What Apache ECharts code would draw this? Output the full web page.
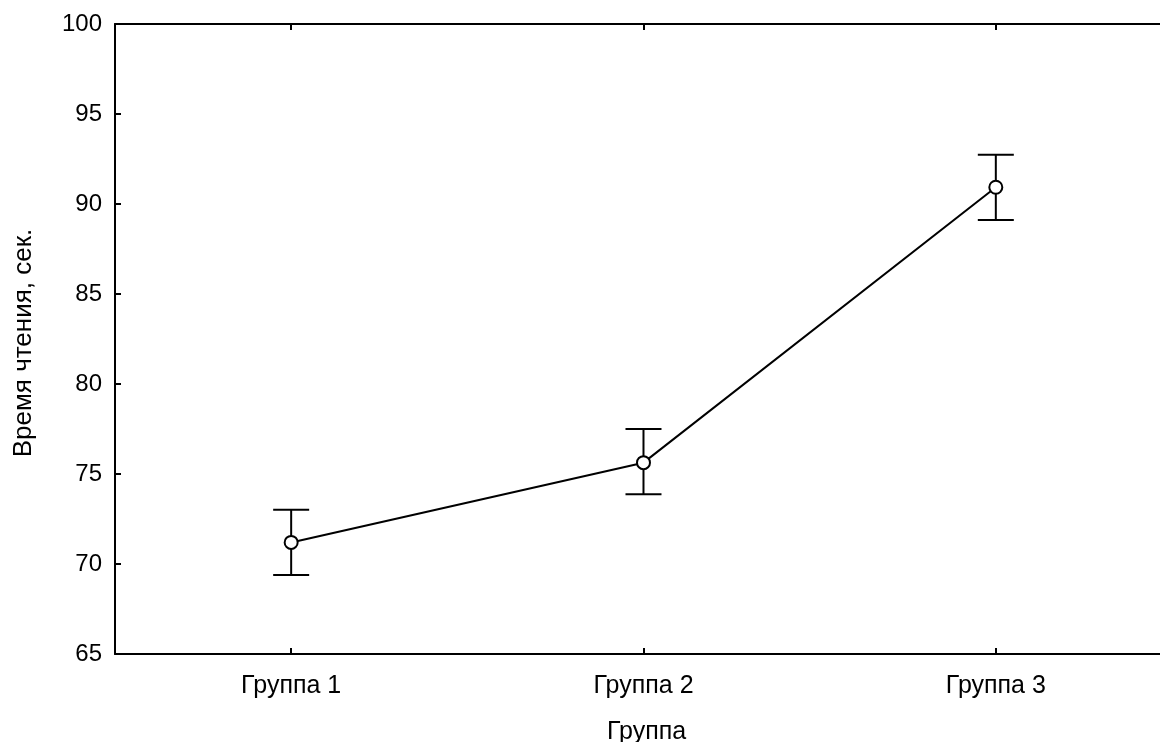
<!DOCTYPE html>
<html>
<head>
<meta charset="utf-8">
<script src="https://cdn.jsdelivr.net/npm/echarts@6/dist/echarts.min.js"></script>
<style>html,body{margin:0;padding:0;background:#fff}#c{width:1160px;height:742px}</style>
</head>
<body>
<div id="c"></div>
<script>
var categories = ['Группа 1', 'Группа 2', 'Группа 3'];
var means = [71.2, 75.63, 90.93];
var upper = [73.02, 77.5, 92.74];
var lower = [69.39, 73.87, 89.11];
var yTicks = [65, 70, 75, 80, 85, 90, 95, 100];
var positions = [1, 2, 3];

var font = 'Liberation Sans, Arial, sans-serif';
var chart = echarts.init(document.getElementById('c'));

var lineData = positions.map(function (p, i) { return [p, means[i]]; });
var errData = positions.map(function (p, i) { return [p, lower[i], upper[i]]; });

var xCommon = {
  type: 'value', min: 0.5, max: 3.466,
  splitLine: { show: false },
  axisLine: { show: true, onZero: false, lineStyle: { color: '#000', width: 2 } },
  axisTick: { show: true, inside: true, length: 6, customValues: positions, lineStyle: { color: '#000', width: 2 } }
};

chart.setOption({
  animation: false,
  grid: { left: 115, right: 0, top: 24, bottom: 88, containLabel: false, outerBoundsMode: 'none' },
  xAxis: [
    Object.assign({}, xCommon, {
      position: 'bottom',
      name: 'Группа', nameLocation: 'middle', nameGap: 66,
      nameTextStyle: { color: '#000', fontFamily: font, fontSize: 25, padding: [0, 0, 0, 18] },
      axisLabel: { show: true, margin: 20, color: '#000', fontFamily: font, fontSize: 25,
        customValues: positions,
        formatter: function (v) { return categories[Math.round(v) - 1]; } }
    }),
    Object.assign({}, xCommon, {
      position: 'top',
      axisLabel: { show: false }
    })
  ],
  yAxis: {
    type: 'value', min: 65, max: 100, interval: 5,
    name: 'Время чтения, сек.', nameLocation: 'middle', nameGap: 78,
    nameTextStyle: { color: '#000', fontFamily: font, fontSize: 26, padding: [0, 8, 0, 0] },
    splitLine: { show: false },
    axisLine: { show: true, lineStyle: { color: '#000', width: 2 } },
    axisTick: { show: true, inside: true, length: 6, lineStyle: { color: '#000', width: 2 } },
    axisLabel: { color: '#000', fontFamily: font, fontSize: 24, margin: 13, padding: [4, 0, 0, 0],
      formatter: function (v) { return yTicks.indexOf(v) >= 0 ? String(v) : ''; } }
  },
  series: [
    {
      type: 'custom',
      xAxisIndex: 0,
      data: errData,
      z: 3,
      renderItem: function (params, api) {
        var x = api.value(0);
        var lo = api.coord([x, api.value(1)]);
        var hi = api.coord([x, api.value(2)]);
        var hw = 18;
        var st = { stroke: '#000', lineWidth: 2 };
        return {
          type: 'group',
          children: [
            { type: 'line', shape: { x1: lo[0], y1: lo[1], x2: hi[0], y2: hi[1] }, style: st },
            { type: 'line', shape: { x1: lo[0] - hw, y1: lo[1], x2: lo[0] + hw, y2: lo[1] }, style: st },
            { type: 'line', shape: { x1: hi[0] - hw, y1: hi[1], x2: hi[0] + hw, y2: hi[1] }, style: st }
          ]
        };
      }
    },
    {
      type: 'line',
      xAxisIndex: 0,
      data: lineData,
      z: 5,
      symbol: 'circle', symbolSize: 13,
      lineStyle: { color: '#000', width: 2 },
      itemStyle: { color: '#fff', borderColor: '#000', borderWidth: 2 }
    }
  ]
});
</script>
</body>
</html>
